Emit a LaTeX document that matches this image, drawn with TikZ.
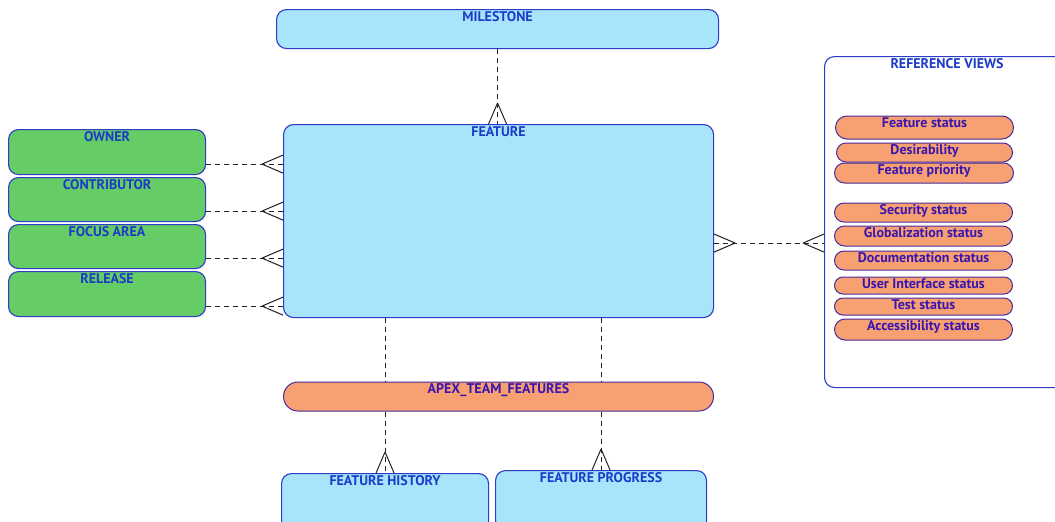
\documentclass[tikz,border=0pt]{standalone}
\usepackage{fontspec}
\setmainfont{PT Sans}
\usetikzlibrary{positioning, shapes.misc, calc}
\definecolor{boxblue}{HTML}{A8E4FA}
\definecolor{boxgreen}{HTML}{66CC66}
\definecolor{pillorange}{HTML}{F7A072}
\definecolor{edgeblue}{HTML}{2A3CC8}
\definecolor{textblue}{HTML}{1C3BC9}
\definecolor{pillpurple}{HTML}{4A2A9A}
\definecolor{pilltext}{HTML}{3A16B0}
\definecolor{linkgray}{HTML}{222222}

\tikzset{
  entitytext/.style={anchor=north, yshift=-2pt, inner sep=0pt, text=textblue,
    font=\bfseries\fontsize{14}{16}\selectfont},
  viewtext/.style={anchor=north, yshift=-1.5pt, inner sep=0pt, text=pilltext,
    font=\bfseries\fontsize{14}{16}\selectfont},
  entity/.style={draw=edgeblue, fill=boxblue, line width=1.1pt, rounded corners=10pt,
    anchor=north west, inner sep=0pt, label={[entitytext]north:#1}},
  lookup/.style={entity=#1, fill=boxgreen, minimum width=197pt},
  view/.style={rounded rectangle, draw=pillpurple, fill=pillorange, line width=1pt,
    anchor=west, inner sep=0pt, label={[viewtext]north:#1}},
  rel/.style={draw=linkgray, line width=1pt, dash pattern=on 5pt off 4pt},
  crow/.pic={\draw[linkgray, line width=1pt] (-21,0) -- (0,9) (-21,0) -- (0,-9);}
}

\begin{document}
\begin{tikzpicture}[x=1pt, y=-1pt]
  \useasboundingbox (0,0) rectangle (1055,522);
  % top and centre
  \node[entity=MILESTONE, minimum width=442pt, minimum height=39pt] (milestone) at (276,9) {};
  \node[entity=FEATURE, minimum width=430pt, minimum height=193pt] (feature) at (283,124) {};
  % lookups on the left
  \node[lookup=OWNER, minimum height=45pt] (owner) at (8,129) {};
  \node[lookup=CONTRIBUTOR, minimum height=44pt] (contributor) at (8,177) {};
  \node[lookup=FOCUS AREA, minimum height=44pt] (focus) at (8,224) {};
  \node[lookup=RELEASE, minimum height=45pt] (release) at (8,271) {};
  % reference views
  \node[entity=REFERENCE VIEWS, fill=none, minimum width=245pt, minimum height=331pt] (refviews) at (824,56) {};
  \node[view=Feature status, minimum width=178pt, minimum height=23pt] (vstatus) at (835,127.5) {};
  \node[view=Desirability, minimum width=176pt, minimum height=19pt] (vdesir) at (836,152.5) {};
  \node[view=Feature priority, minimum width=179pt, minimum height=20pt] (vprio) at (834,173) {};
  \node[view=Security status, minimum width=178pt, minimum height=19pt] (vsec) at (834,212.5) {};
  \node[view=Globalization status, minimum width=178pt, minimum height=20pt] (vglob) at (834,236) {};
  \node[view=Documentation status, minimum width=178pt, minimum height=19pt] (vdoc) at (834,260.5) {};
  \node[view=User Interface status, minimum width=178pt, minimum height=17pt] (vui) at (834,285.5) {};
  \node[view=Test status, minimum width=178pt, minimum height=17pt] (vtest) at (834,306.5) {};
  \node[view=Accessibility status, minimum width=178pt, minimum height=21pt] (vacc) at (834,329.5) {};
  % bottom
  \node[view=APEX\_TEAM\_FEATURES, minimum width=430pt, minimum height=29pt] (apex) at (283,396.5) {};
  \node[entity=FEATURE HISTORY, minimum width=207pt, minimum height=60pt] (history) at (281,473) {};
  \node[entity=FEATURE PROGRESS, minimum width=211pt, minimum height=60pt] (progress) at (495,470) {};

  % links
  \draw[rel] (milestone.south) -- (milestone.south |- feature.north);
  \pic[rotate=-90] at (milestone.south |- feature.north) {crow};
  \foreach \lk in {owner, contributor, focus, release} {
    \coordinate (\lk-end) at ($(\lk.south east)+(0,-11)$);
    \draw[rel] (\lk-end) -- (\lk-end -| feature.west);
    \pic at (\lk-end -| feature.west) {crow};
  }
  \coordinate (feat-ref) at ($(feature.east)+(0,22)$);
  \draw[rel] (feat-ref) -- (feat-ref -| refviews.west);
  \pic[rotate=180] at (feat-ref) {crow};
  \pic at (feat-ref -| refviews.west) {crow};
  \foreach \lk in {history, progress} {
    \draw[rel] (\lk.north |- feature.south) -- (\lk.north |- apex.north);
    \draw[rel] (\lk.north |- apex.south) -- (\lk.north);
    \pic[rotate=-90] at (\lk.north) {crow};
  }
\end{tikzpicture}
\end{document}
